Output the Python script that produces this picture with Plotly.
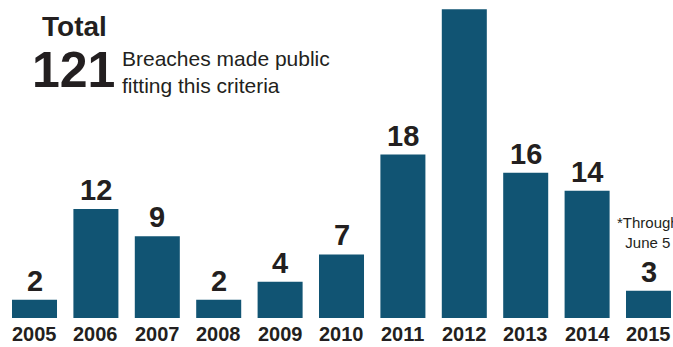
import plotly.graph_objects as go

# breaches made public per year
years = ["2005", "2006", "2007", "2008", "2009", "2010",
         "2011", "2012", "2013", "2014", "2015"]
breaches = [2, 12, 9, 2, 4, 7, 18, 34, 16, 14, 3]
total = sum(breaches)

BAR = "#115473"
INK = "#231f20"
BOLD = "Liberation Sans, Arial, Helvetica, sans-serif"

fig = go.Figure(
    go.Bar(x=list(range(len(years))), y=breaches,
           marker=dict(color=BAR, line_width=0),
           customdata=years, hovertemplate="%{customdata}: %{y}<extra></extra>")
)

# value labels over the bars, year labels under them
for i, (yr, v) in enumerate(zip(years, breaches)):
    fig.add_annotation(x=i, y=v, text=f"<b>{v}</b>", showarrow=False,
                       yanchor="bottom", yshift=1,
                       font=dict(family=BOLD, size=29, color=INK))
    fig.add_annotation(x=i, yref="paper", y=0, text=f"<b>{yr}</b>", showarrow=False,
                       yanchor="top", yshift=-3,
                       font=dict(family=BOLD, size=20, color=INK))

fig.add_annotation(x=len(years) - 1, y=9.4, text="*Through<br>June 5", showarrow=False,
                   xanchor="center", yanchor="middle", xshift=-1,
                   font=dict(family=BOLD, size=15, color=INK))

# headline block
fig.add_annotation(xref="paper", yref="paper", x=40 / 673, y=1 - 9 / 318,
                   text="<b>Total</b>", showarrow=False, xanchor="left", yanchor="top",
                   font=dict(family=BOLD, size=28, color=INK))
fig.add_annotation(xref="paper", yref="paper", x=30 / 673, y=1 - 40 / 318,
                   text=f"<b>{total}</b>", showarrow=False, xanchor="left", yanchor="top",
                   font=dict(family=BOLD, size=50, color=INK))
fig.add_annotation(xref="paper", yref="paper", x=120 / 673, y=1 - 45 / 318,
                   text="Breaches made public<br>fitting this criteria",
                   showarrow=False, xanchor="left", yanchor="top", align="left",
                   font=dict(family=BOLD, size=21, color=INK))

fig.update_layout(
    width=673, height=347,
    margin=dict(l=0, r=0, t=0, b=29),
    paper_bgcolor="white", plot_bgcolor="white",
    bargap=0.267, showlegend=False,
    xaxis=dict(range=[-0.562, 10.399], visible=False),
    yaxis=dict(range=[0, 35.02], visible=False),
)

fig.write_html("out.html", config={"displayModeBar": False},
               post_script="document.body.style.margin='0';")
